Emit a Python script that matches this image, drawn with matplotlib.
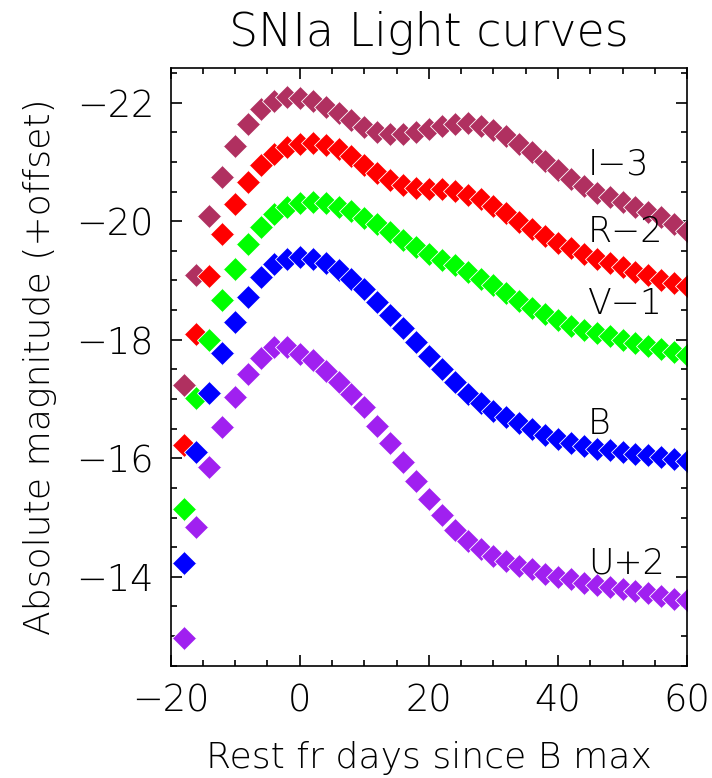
import numpy as np
import matplotlib.pyplot as plt
from matplotlib.ticker import MultipleLocator

# rest-frame days since B maximum
days = np.arange(-18, 61, 2)

# absolute magnitudes per band, offsets already applied
mag_I = [-17.23, -19.10, -20.08, -20.75, -21.27, -21.64, -21.89, -22.03, -22.09, -22.08,
         -22.02, -21.92, -21.82, -21.70, -21.59, -21.51, -21.47, -21.47, -21.51, -21.56,
         -21.61, -21.64, -21.65, -21.61, -21.54, -21.44, -21.31, -21.17, -21.02, -20.86,
         -20.71, -20.59, -20.48, -20.40, -20.32, -20.24, -20.16, -20.07, -19.96, -19.83]
mag_R = [-16.23, -18.10, -19.08, -19.78, -20.29, -20.66, -20.95, -21.14, -21.26, -21.31,
         -21.32, -21.28, -21.22, -21.10, -20.95, -20.82, -20.69, -20.61, -20.56, -20.54,
         -20.54, -20.51, -20.45, -20.37, -20.26, -20.13, -19.99, -19.86, -19.75, -19.63,
         -19.54, -19.45, -19.37, -19.30, -19.23, -19.15, -19.09, -19.01, -18.96, -18.90]
mag_V = [-15.14, -17.02, -18.00, -18.67, -19.20, -19.61, -19.90, -20.12, -20.24, -20.31,
         -20.32, -20.30, -20.24, -20.18, -20.06, -19.95, -19.81, -19.68, -19.57, -19.45,
         -19.35, -19.26, -19.15, -19.03, -18.92, -18.79, -18.66, -18.54, -18.43, -18.33,
         -18.24, -18.17, -18.11, -18.06, -18.00, -17.94, -17.89, -17.84, -17.80, -17.75]
mag_B = [-14.24, -16.10, -17.10, -17.77, -18.30, -18.72, -19.06, -19.27, -19.37, -19.40,
         -19.37, -19.30, -19.18, -19.03, -18.85, -18.63, -18.42, -18.19, -17.96, -17.72,
         -17.50, -17.29, -17.09, -16.93, -16.80, -16.70, -16.60, -16.50, -16.40, -16.33,
         -16.25, -16.20, -16.16, -16.14, -16.10, -16.07, -16.06, -16.02, -15.99, -15.96]
mag_U = [-12.97, -14.84, -15.85, -16.52, -17.03, -17.42, -17.70, -17.87, -17.87, -17.76,
         -17.66, -17.48, -17.28, -17.08, -16.86, -16.55, -16.25, -15.94, -15.62, -15.31,
         -15.05, -14.79, -14.61, -14.47, -14.35, -14.27, -14.18, -14.13, -14.05, -14.00,
         -13.96, -13.90, -13.86, -13.83, -13.79, -13.76, -13.72, -13.68, -13.62, -13.60]

bands = ['I', 'R', 'V', 'B', 'U']
band_labels = ['I\u22123', 'R\u22122', 'V\u22121', 'B', 'U+2']
colors = ['#B03060', '#FF0000', '#00FF00', '#0000FF', '#A020F0']
label_y = [-20.95, -19.81, -18.61, -16.58, -14.23]

plt.rcParams['font.family'] = ['DejaVu Sans']
plt.rcParams['font.weight'] = 'light'
plt.rcParams['axes.labelweight'] = 'light'
plt.rcParams['axes.titleweight'] = 'light'

fig = plt.figure(figsize=(7.12, 7.78), dpi=100)
ax = fig.add_axes([0.2397, 0.1444, 0.7253, 0.7678])

for mags, col in zip([mag_I, mag_R, mag_V, mag_B, mag_U], colors):
    ax.plot(days, mags, linestyle='none', marker='D', markersize=12.2,
            color=col, markeredgecolor='white', markeredgewidth=0.6)

for lab, ly in zip(band_labels, label_y):
    ax.text(44.6, ly, lab, fontsize=25, ha='left', va='center')

ax.set_xlim(-20, 60)
ax.set_ylim(-12.5, -22.58)

ax.xaxis.set_major_locator(MultipleLocator(20))
ax.xaxis.set_minor_locator(MultipleLocator(5))
ax.yaxis.set_major_locator(MultipleLocator(2))
ax.yaxis.set_minor_locator(MultipleLocator(0.5))
ax.tick_params(which='both', direction='in', top=True, right=True, width=1.2)
ax.tick_params(which='major', length=8, labelsize=26.5, pad=12)
ax.tick_params(which='minor', length=4.5)
for sp in ax.spines.values():
    sp.set_linewidth(1.2)

ax.set_xlabel('Rest fr days since B max', fontsize=26, labelpad=16)
ax.set_ylabel('Absolute magnitude (+offset)', fontsize=26, labelpad=14)
ax.set_title('SNIa Light curves', fontsize=33, pad=16)

plt.savefig('out.png', dpi=100)
